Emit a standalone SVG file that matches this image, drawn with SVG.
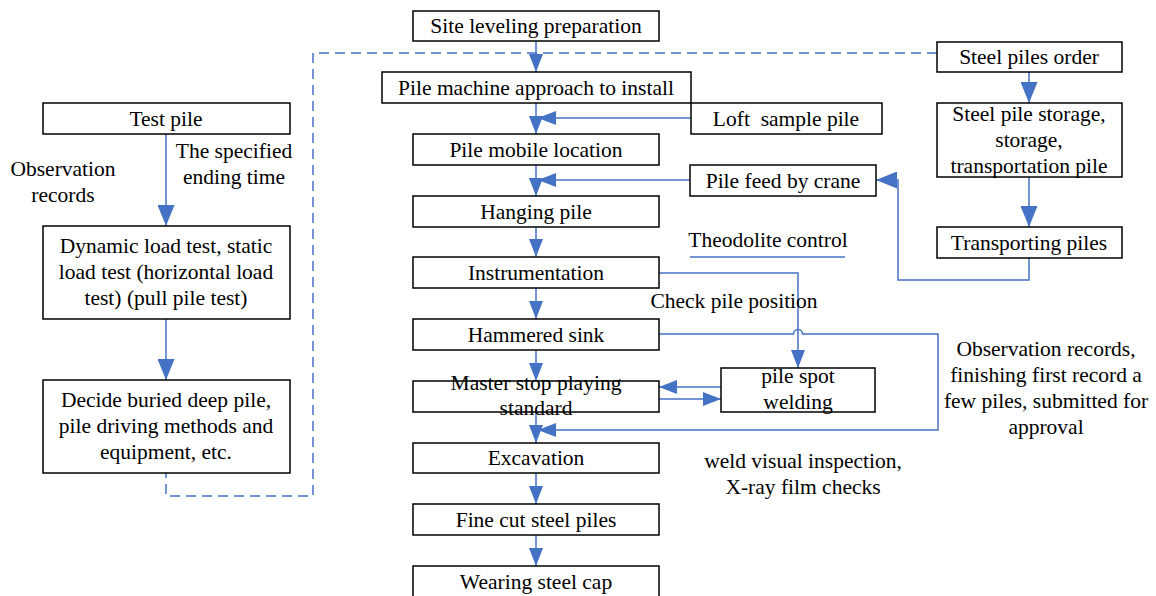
<svg xmlns="http://www.w3.org/2000/svg" width="1156" height="596" viewBox="0 0 1156 596">
<style>
.box{fill:#fff;stroke:#000;stroke-width:1.5}
.c{fill:none;stroke:#4472C4;stroke-width:1.5}
.d{fill:none;stroke:#4472C4;stroke-width:1.5;stroke-dasharray:10 6}
</style>
<defs>
<marker id="a" markerWidth="18" markerHeight="14" refX="18" refY="7" orient="auto" markerUnits="userSpaceOnUse"><path d="M0,0 L18,7 L0,14 Z" fill="#4472C4"/></marker>
<marker id="b" markerWidth="21" markerHeight="17" refX="21" refY="8.5" orient="auto" markerUnits="userSpaceOnUse"><path d="M0,0 L21,8.5 L0,17 Z" fill="#4472C4"/></marker>
</defs>
<g id="connectors">
<path class="d" d="M937,53 H313 V496 H166 V473"/>
<path class="c" d="M536,41 V72" marker-end="url(#a)"/>
<path class="c" d="M536,103 V134" marker-end="url(#a)"/>
<path class="c" d="M691,118 H538" marker-end="url(#a)"/>
<path class="c" d="M536,165 V196" marker-end="url(#a)"/>
<path class="c" d="M690,180 H538" marker-end="url(#a)"/>
<path class="c" d="M536,227 V257" marker-end="url(#a)"/>
<path class="c" d="M536,288 V319" marker-end="url(#a)"/>
<path class="c" d="M536,350 V381" marker-end="url(#a)"/>
<path class="c" d="M536,412 V443" marker-end="url(#a)"/>
<path class="c" d="M536,473 V504" marker-end="url(#a)"/>
<path class="c" d="M536,535 V566" marker-end="url(#a)"/>
<path class="c" d="M659,273 H798 V368" marker-end="url(#a)"/>
<path class="c" d="M659,334 H793.5 A4.5,4.5 0 0 1 802.5,334 H938 V430 H538" marker-end="url(#a)"/>
<path class="c" d="M721,387 H659" marker-end="url(#a)"/>
<path class="c" d="M659,399 H721" marker-end="url(#a)"/>
<path class="c" d="M1029,72 V103" marker-end="url(#b)"/>
<path class="c" d="M1029,177 V227" marker-end="url(#b)"/>
<path class="c" d="M1029,258 V280 H898 V180 H876" marker-end="url(#b)"/>
<path class="c" d="M166,134 V226" marker-end="url(#b)"/>
<path class="c" d="M166,319 V380" marker-end="url(#b)"/>
<path class="c" d="M690,257 H845"/>
</g>
<g id="site"><rect class="box" x="413" y="11" width="246" height="30"/><text font-family="Liberation Serif" font-size="21.5" text-anchor="middle" x="536" y="33">Site leveling preparation</text></g>
<g id="machine"><rect class="box" x="382" y="72" width="309" height="31"/><text font-family="Liberation Serif" font-size="21.5" text-anchor="middle" x="536" y="95">Pile machine approach to install</text></g>
<g id="loft"><rect class="box" x="691" y="103" width="191" height="31"/><text font-family="Liberation Serif" font-size="21.5" text-anchor="middle" x="786" y="126">Loft&#160; sample pile</text></g>
<g id="mobile"><rect class="box" x="413" y="134" width="246" height="31"/><text font-family="Liberation Serif" font-size="21.5" text-anchor="middle" x="536" y="157">Pile mobile location</text></g>
<g id="feed"><rect class="box" x="690" y="165" width="186" height="31"/><text font-family="Liberation Serif" font-size="21.5" text-anchor="middle" x="783" y="188">Pile feed by crane</text></g>
<g id="hanging"><rect class="box" x="413" y="196" width="246" height="31"/><text font-family="Liberation Serif" font-size="21.5" text-anchor="middle" x="536" y="219">Hanging pile</text></g>
<g id="instr"><rect class="box" x="413" y="257" width="246" height="31"/><text font-family="Liberation Serif" font-size="21.5" text-anchor="middle" x="536" y="280">Instrumentation</text></g>
<g id="hammered"><rect class="box" x="413" y="319" width="246" height="31"/><text font-family="Liberation Serif" font-size="21.5" text-anchor="middle" x="536" y="342">Hammered sink</text></g>
<g id="master"><rect class="box" x="413" y="381" width="246" height="31"/><text font-family="Liberation Serif" font-size="21.5" text-anchor="middle" x="536" y="390">Master stop playing</text><text font-family="Liberation Serif" font-size="21.5" text-anchor="middle" x="536" y="415">standard</text></g>
<g id="spot"><rect class="box" x="721" y="368" width="154" height="44"/><text font-family="Liberation Serif" font-size="21.5" text-anchor="middle" x="798" y="383">pile spot</text><text font-family="Liberation Serif" font-size="21.5" text-anchor="middle" x="798" y="409">welding</text></g>
<g id="excavation"><rect class="box" x="413" y="443" width="246" height="30"/><text font-family="Liberation Serif" font-size="21.5" text-anchor="middle" x="536" y="465">Excavation</text></g>
<g id="finecut"><rect class="box" x="413" y="504" width="246" height="31"/><text font-family="Liberation Serif" font-size="21.5" text-anchor="middle" x="536" y="527">Fine cut steel piles</text></g>
<g id="cap"><rect class="box" x="413" y="566" width="246" height="31"/><text font-family="Liberation Serif" font-size="21.5" text-anchor="middle" x="536" y="589">Wearing steel cap</text></g>
<g id="order"><rect class="box" x="937" y="42" width="185" height="30"/><text font-family="Liberation Serif" font-size="21.5" text-anchor="middle" x="1029" y="64">Steel piles order</text></g>
<g id="storage"><rect class="box" x="937" y="103" width="185" height="74"/><text font-family="Liberation Serif" font-size="21.5" text-anchor="middle" x="1029" y="121">Steel pile storage,</text><text font-family="Liberation Serif" font-size="21.5" text-anchor="middle" x="1029" y="147">storage,</text><text font-family="Liberation Serif" font-size="21.5" text-anchor="middle" x="1029" y="173">transportation pile</text></g>
<g id="transporting"><rect class="box" x="937" y="227" width="185" height="31"/><text font-family="Liberation Serif" font-size="21.5" text-anchor="middle" x="1029" y="250">Transporting piles</text></g>
<g id="test"><rect class="box" x="43" y="103" width="247" height="31"/><text font-family="Liberation Serif" font-size="21.5" text-anchor="middle" x="166" y="126">Test pile</text></g>
<g id="dynamic"><rect class="box" x="43" y="226" width="247" height="93"/><text font-family="Liberation Serif" font-size="21.5" text-anchor="middle" x="166" y="253">Dynamic load test, static</text><text font-family="Liberation Serif" font-size="21.5" text-anchor="middle" x="166" y="279">load test (horizontal load</text><text font-family="Liberation Serif" font-size="21.5" text-anchor="middle" x="166" y="305">test) (pull pile test)</text></g>
<g id="decide"><rect class="box" x="43" y="380" width="247" height="93"/><text font-family="Liberation Serif" font-size="21.5" text-anchor="middle" x="166" y="407">Decide buried deep pile,</text><text font-family="Liberation Serif" font-size="21.5" text-anchor="middle" x="166" y="433">pile driving methods and</text><text font-family="Liberation Serif" font-size="21.5" text-anchor="middle" x="166" y="459">equipment, etc.</text></g>
<g id="labels">
<text font-family="Liberation Serif" font-size="21.5" text-anchor="middle" x="63" y="176">Observation</text><text font-family="Liberation Serif" font-size="21.5" text-anchor="middle" x="63" y="202">records</text>
<text font-family="Liberation Serif" font-size="21.5" text-anchor="middle" x="234" y="158">The specified</text><text font-family="Liberation Serif" font-size="21.5" text-anchor="middle" x="234" y="184">ending time</text>
<text font-family="Liberation Serif" font-size="21.5" text-anchor="middle" x="768" y="247">Theodolite control</text>
<text font-family="Liberation Serif" font-size="21.5" text-anchor="middle" x="734" y="308">Check pile position</text>
<text font-family="Liberation Serif" font-size="21.5" text-anchor="middle" x="803" y="468">weld visual inspection,</text><text font-family="Liberation Serif" font-size="21.5" text-anchor="middle" x="803" y="494">X-ray film checks</text>
<text font-family="Liberation Serif" font-size="21.5" text-anchor="middle" x="1046" y="356">Observation records,</text><text font-family="Liberation Serif" font-size="21.5" text-anchor="middle" x="1046" y="382">finishing first record a</text><text font-family="Liberation Serif" font-size="21.5" text-anchor="middle" x="1046" y="408">few piles, submitted for</text><text font-family="Liberation Serif" font-size="21.5" text-anchor="middle" x="1046" y="434">approval</text>
</g>
</svg>
